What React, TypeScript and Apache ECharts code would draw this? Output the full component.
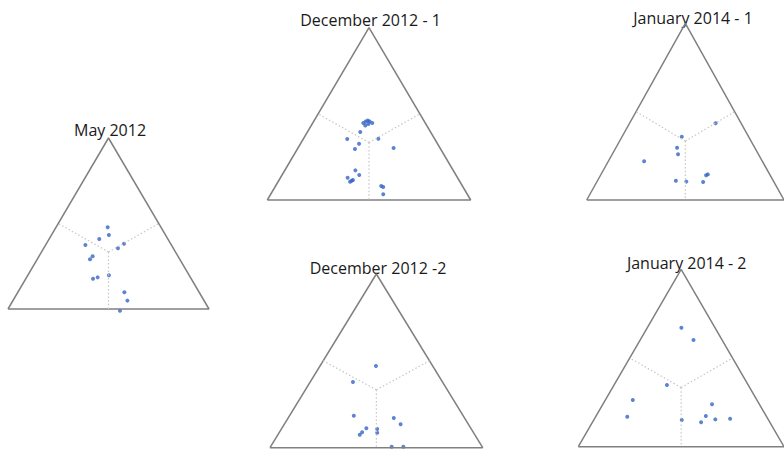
import React, { useEffect, useRef } from "react";
import * as echarts from "echarts";

// Panel titles
const TITLES = [
  "May 2012",
  "December 2012 - 1",
  "January 2014 - 1",
  "December 2012 -2",
  "January 2014 - 2",
];

// Points in normalised triangle coordinates: [x (0 = left vertex, 1 = right vertex), y (0 = base, 1 = apex)]
const MAY_2012: [number, number][] = [
  [0.496, 0.478], [0.502, 0.433], [0.454, 0.409], [0.385, 0.374], [0.577, 0.382],
  [0.547, 0.355], [0.421, 0.308], [0.408, 0.291], [0.502, 0.197], [0.446, 0.185],
  [0.423, 0.177], [0.579, 0.098], [0.594, 0.049], [0.557, -0.01],
];
const DEC_2012_1: [number, number][] = [
  [0.472, 0.447], [0.484, 0.456], [0.494, 0.461], [0.503, 0.456], [0.516, 0.447],
  [0.482, 0.433], [0.497, 0.441], [0.457, 0.395], [0.393, 0.354], [0.546, 0.356],
  [0.451, 0.327], [0.431, 0.296], [0.621, 0.302], [0.433, 0.172], [0.452, 0.145],
  [0.395, 0.129], [0.407, 0.106], [0.415, 0.112], [0.421, 0.116], [0.56, 0.081],
  [0.57, 0.075], [0.57, 0.033],
];
const JAN_2014_1: [number, number][] = [
  [0.653, 0.434], [0.482, 0.358], [0.458, 0.296], [0.463, 0.259], [0.291, 0.219],
  [0.614, 0.145], [0.605, 0.14], [0.452, 0.109], [0.505, 0.104], [0.59, 0.102],
];
const DEC_2012_2: [number, number][] = [
  [0.498, 0.47], [0.39, 0.378], [0.394, 0.184], [0.582, 0.171], [0.614, 0.135],
  [0.453, 0.112], [0.433, 0.089], [0.422, 0.075], [0.504, 0.108], [0.504, 0.086],
  [0.572, 0.006], [0.627, 0.006],
];
const JAN_2014_2: [number, number][] = [
  [0.501, 0.671], [0.56, 0.601], [0.431, 0.348], [0.265, 0.263], [0.65, 0.239],
  [0.238, 0.169], [0.62, 0.173], [0.666, 0.154], [0.738, 0.158], [0.503, 0.151],
  [0.597, 0.138],
];

const PANEL_DATA = [MAY_2012, DEC_2012_1, JAN_2014_1, DEC_2012_2, JAN_2014_2];

// Triangle outline and the dotted lines from the centroid to the side midpoints
const OUTLINE: [number, number][] = [[0, 0], [1, 0], [0.5, 1], [0, 0]];
const SPOKES: [number, number][][] = [
  [[0.5, 1 / 3], [0.25, 0.5]],
  [[0.5, 1 / 3], [0.75, 0.5]],
  [[0.5, 1 / 3], [0.5, 0]],
];

// Layout of each panel (pixels)
const FRAMES = [
  { left: 8, top: 138, width: 201, height: 171, tx: 110, ty: 130 },
  { left: 267.3, top: 27.7, width: 203.4, height: 172.3, tx: 370.5, ty: 20 },
  { left: 586.7, top: 23.3, width: 208.6, height: 176.7, tx: 693, ty: 18 },
  { left: 270, top: 274, width: 212.7, height: 173.7, tx: 378, ty: 267.5 },
  { left: 578.3, top: 269.3, width: 216.8, height: 177.4, tx: 686.7, ty: 263 },
];

export default function App() {
  const ref = useRef<HTMLDivElement>(null);
  useEffect(() => {
    if (!ref.current) return;
    const chart = echarts.init(ref.current, null, { renderer: "svg" });
    const grid: any[] = [];
    const xAxis: any[] = [];
    const yAxis: any[] = [];
    const series: any[] = [];
    const graphic: any[] = [];
    FRAMES.forEach((f, i) => {
      grid.push({ left: f.left, top: f.top, width: f.width, height: f.height, containLabel: false });
      xAxis.push({ type: "value", gridIndex: i, min: 0, max: 1, show: false });
      yAxis.push({ type: "value", gridIndex: i, min: 0, max: 1, show: false });
      series.push({
        type: "line",
        xAxisIndex: i,
        yAxisIndex: i,
        data: OUTLINE,
        symbol: "none",
        silent: true,
        clip: false,
        lineStyle: { color: "#808080", width: 1.5 },
      });
      SPOKES.forEach((s) => {
        series.push({
          type: "line",
          xAxisIndex: i,
          yAxisIndex: i,
          data: s,
          symbol: "none",
          silent: true,
          clip: false,
          lineStyle: { color: "#c6c6c6", width: 1.2, type: [1.5, 2.2] },
        });
      });
      series.push({
        type: "scatter",
        xAxisIndex: i,
        yAxisIndex: i,
        data: PANEL_DATA[i],
        symbol: "circle",
        symbolSize: 4,
        clip: false,
        itemStyle: { color: "#3464c6" },
      });
      graphic.push({
        type: "text",
        x: f.tx,
        y: f.ty,
        style: {
          text: TITLES[i],
          fill: "#1a1a1a",
          font: "16px 'Open Sans'",
          textAlign: "center",
          textVerticalAlign: "middle",
        },
      });
    });
    chart.setOption({
      animation: false,
      backgroundColor: "#ffffff",
      grid,
      xAxis,
      yAxis,
      series,
      graphic,
    });
    return () => chart.dispose();
  }, []);
  return (
    <div
      ref={ref}
      style={{ position: "fixed", left: 0, top: 0, width: 784, height: 449, background: "#fff" }}
    />
  );
}
